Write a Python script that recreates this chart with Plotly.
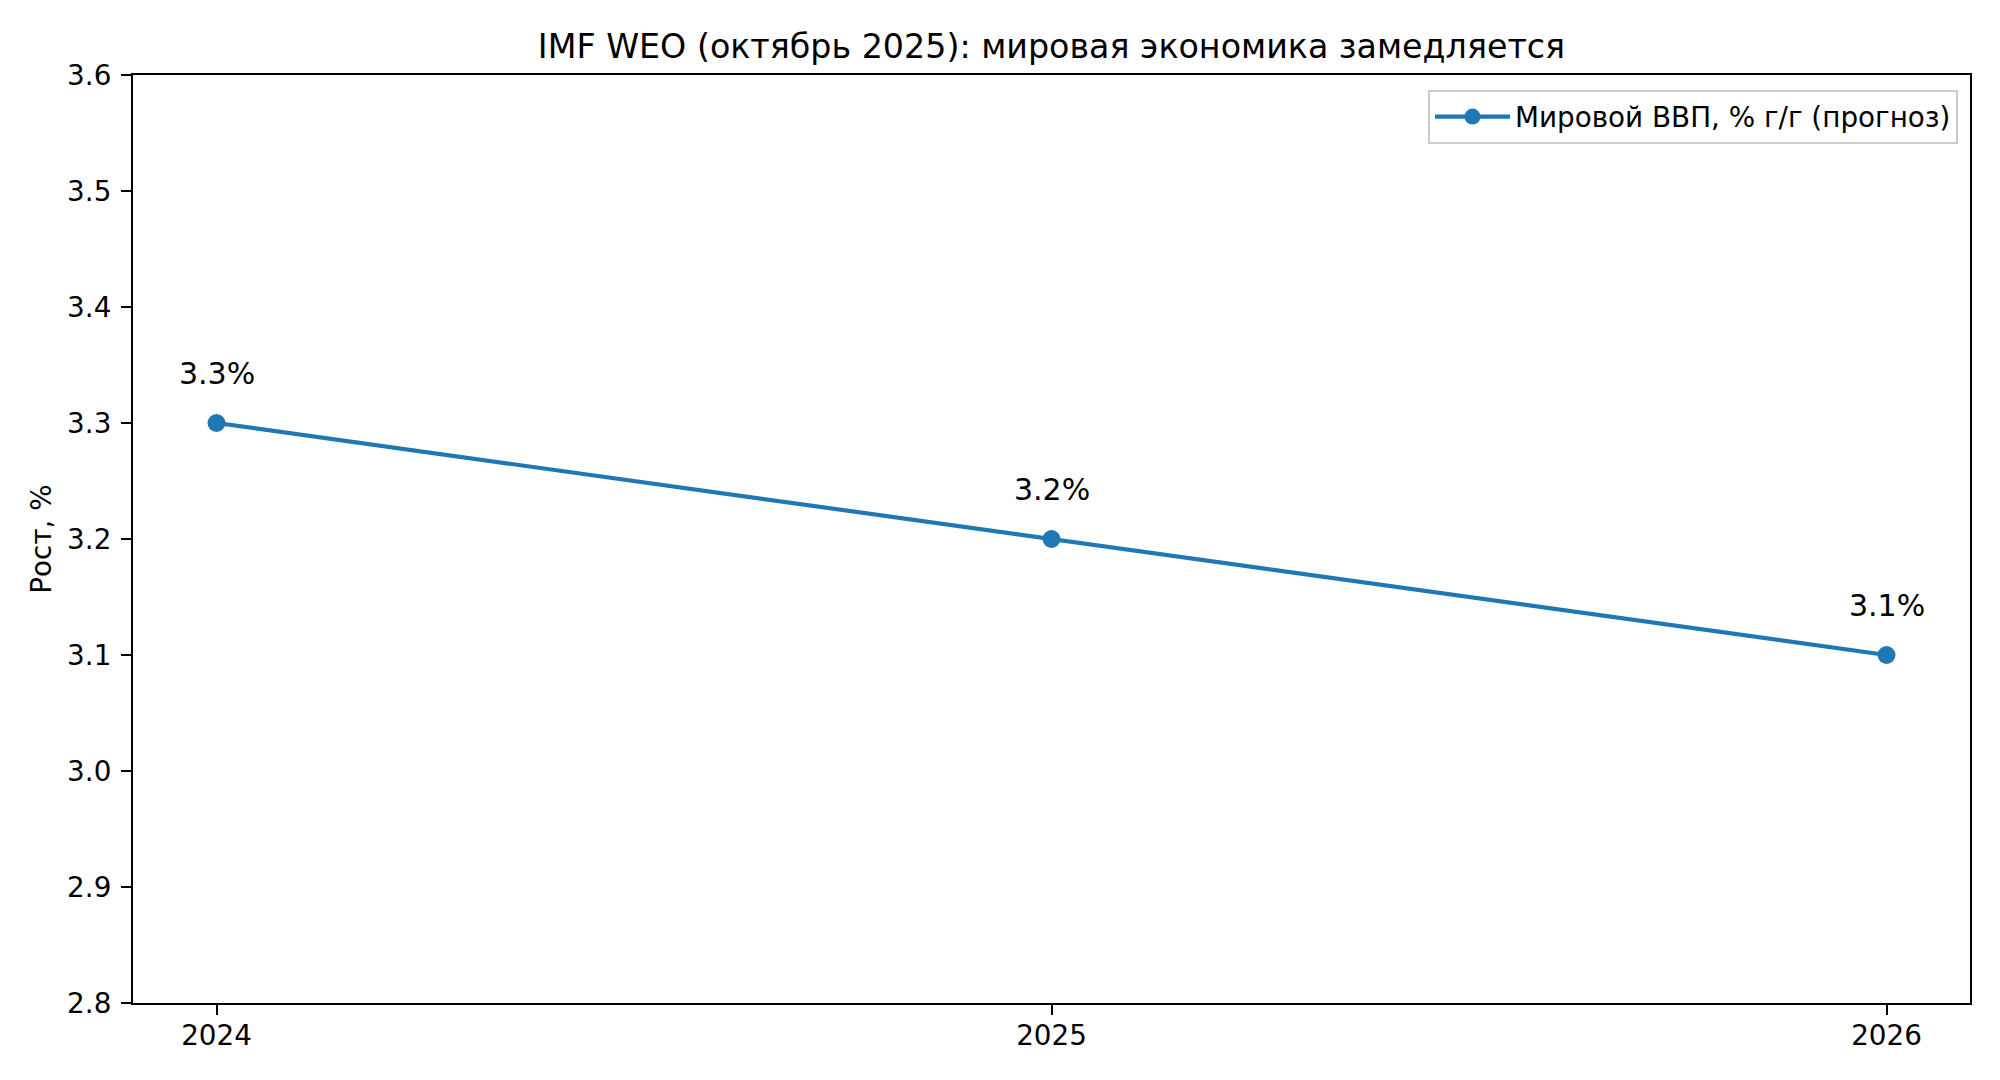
import plotly.graph_objects as go

years = [2024, 2025, 2026]
growth = [3.3, 3.2, 3.1]
labels = ["3.3%", "3.2%", "3.1%"]
series_name = "Мировой ВВП, % г/г (прогноз)"
title_text = "IMF WEO (октябрь 2025): мировая экономика замедляется"
y_title = "Рост, %"
y_ticks = [2.8, 2.9, 3.0, 3.1, 3.2, 3.3, 3.4, 3.5, 3.6]

OFF = 8  # default body margin of the page
W, H = 2000 - 2 * OFF, 1080 - 2 * OFF
L, R, T, B = 133 - OFF, 1970 - OFF, 75 - OFF, 1003 - OFF
FONT = "DejaVu Sans"
BLUE = "#1f77b4"

fig = go.Figure()
fig.add_trace(go.Scatter(
    x=years, y=growth, mode="lines+markers", name=series_name,
    line=dict(color=BLUE, width=4.2),
    marker=dict(color=BLUE, size=18),
))

for xv, yv, t in zip(years, growth, labels):
    fig.add_annotation(x=xv, y=yv, text=t, showarrow=False,
                       xanchor="center", yanchor="middle", yshift=50,
                       font=dict(family=FONT, size=30, color="black"))

fig.update_layout(
    width=W, height=H,
    margin=dict(l=L, r=W - R, t=T, b=H - B, pad=0),
    paper_bgcolor="white", plot_bgcolor="white",
    font=dict(family=FONT, size=28, color="black"),
    title=dict(text=title_text, x=((L + R) / 2) / W, xref="container", xanchor="center",
               y=1 - (46 - OFF) / H, yref="container", yanchor="middle",
               font=dict(family=FONT, size=33.3, color="black")),
    showlegend=True,
    legend=dict(x=(1958 - OFF - L) / (R - L), xanchor="right", y=1 - 15 / (B - T), yanchor="top",
                bgcolor="rgba(255,255,255,0.8)", bordercolor="#cccccc", borderwidth=2,
                itemwidth=75, itemsizing="trace",
                font=dict(family=FONT, size=27.8, color="black")),
)

fig.update_xaxes(range=[2023.9, 2026.1], tickvals=years, ticktext=[str(y) for y in years],
                 showgrid=False, zeroline=False, showline=True, linecolor="black", linewidth=2.2,
                 mirror=True, ticks="outside", ticklen=10, tickwidth=2.2, tickcolor="black",
                 tickfont=dict(family=FONT, size=27.8, color="black"), ticklabelstandoff=-3)
fig.update_yaxes(range=[2.8, 3.6], tickvals=y_ticks, tickformat=".1f",
                 showgrid=False, zeroline=False, showline=True, linecolor="black", linewidth=2.2,
                 mirror=True, ticks="outside", ticklen=10, tickwidth=2.2, tickcolor="black",
                 tickfont=dict(family=FONT, size=27.8, color="black"), ticklabelstandoff=4,
                 title=dict(text=y_title, standoff=7, font=dict(family=FONT, size=27.8, color="black")))

fig.write_html("out.html")
